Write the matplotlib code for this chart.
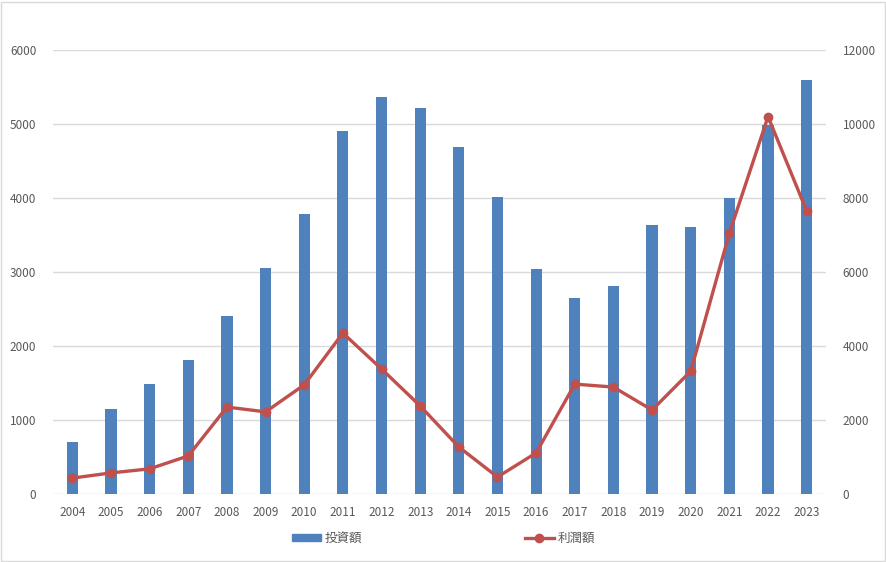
import numpy as np
import matplotlib.pyplot as plt
from matplotlib.patches import Rectangle
from matplotlib.lines import Line2D

plt.rcParams['font.family'] = ['Noto Sans CJK JP', 'DejaVu Sans']

# ---- data ----
years = [str(y) for y in range(2004, 2024)]
investment = [700, 1150, 1480, 1810, 2410, 3060, 3780, 4900, 5370, 5210,
              4690, 4010, 3040, 2650, 2810, 3630, 3610, 4000, 4990, 5590]
profit = [430, 570, 680, 1030, 2350, 2220, 2950, 4350, 3380, 2380,
          1270, 460, 1110, 2970, 2890, 2270, 3320, 7050, 10200, 7650]

BAR_C = "#4f81bd"
LINE_C = "#c0504d"
TXT_C = "#595959"
GRID_C = "#d9d9d9"

fig = plt.figure(figsize=(8.87, 5.62), dpi=100)
ax = fig.add_axes([53/887, 1-494/562, (826-53)/887, (494-50)/562])
ax2 = ax.twinx()

x = np.arange(len(years))
ax.bar(x, investment, width=0.29, color=BAR_C, zorder=2, label="投資額")
ax2.plot(x, profit, color=LINE_C, lw=2.4, marker='o', ms=6, zorder=3, label="利潤額")

ax.set_xlim(-0.5, len(years) - 0.5)
ax.set_ylim(0, 6000)
ax2.set_ylim(0, 12000)
ax.set_yticks(np.arange(0, 6001, 1000))
ax2.set_yticks(np.arange(0, 12001, 2000))
ax.set_xticks(x)
ax.set_xticklabels(years)

ax.grid(axis='y', color=GRID_C, lw=1, zorder=0)
ax.set_axisbelow(True)
for a in (ax, ax2):
    for s in a.spines.values():
        s.set_visible(False)
    a.tick_params(length=0, labelsize=8.5, labelcolor=TXT_C)
ax.tick_params(axis='y', pad=12)
ax.tick_params(axis='x', pad=9)
ax2.tick_params(axis='y', pad=12)
ax.set_zorder(ax2.get_zorder() - 1)
ax.patch.set_visible(False)

handles = [Rectangle((0, 0), 1, 1, color=BAR_C),
           Line2D([0], [0], color=LINE_C, lw=2.4, marker='o', ms=6)]
fig.legend(handles, ["投資額", "利潤額"], loc='center', bbox_to_anchor=(0.5, 1-538/562),
           ncol=2, frameon=False, fontsize=9, labelcolor=TXT_C,
           handlelength=2.3, handleheight=0.5, columnspacing=13, handletextpad=0.3)

fig.patches.append(Rectangle((1/887, 1/562), 884/887, 559/562, transform=fig.transFigure,
                             fill=False, edgecolor=GRID_C, lw=1))

plt.savefig("out.png", dpi=100)
